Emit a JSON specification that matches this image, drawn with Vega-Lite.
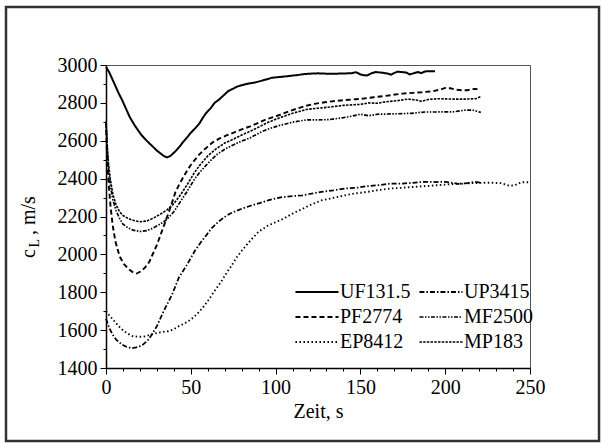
{
  "$schema": "https://vega.github.io/schema/vega-lite/v6.json",
  "width": 424,
  "height": 303,
  "autosize": {"type": "none"},
  "padding": {"left": 106, "top": 65, "right": 71, "bottom": 75},
  "background": "white",
  "config": {
    "view": {"stroke": "#555", "strokeWidth": 1},
    "font": "Liberation Serif",
    "axis": {
      "labelFont": "Liberation Serif", "titleFont": "Liberation Serif",
      "labelFontSize": 20, "titleFontSize": 20, "titleFontWeight": "normal",
      "labelColor": "black", "titleColor": "black",
      "labelFlush": false, "labelPadding": 3,
      "domainColor": "black", "domainWidth": 1.5, "tickColor": "black", "tickWidth": 1, "grid": false
    },
    "legend": {"labelFont": "Liberation Serif"},
    "text": {"font": "Liberation Serif"}
  },
  "resolve": {"axis": {"x": "independent", "y": "independent"}},
  "datasets": {
    "curves": [
      {"series":"UF131.5","t":0,"v":2990},{"series":"UF131.5","t":2,"v":2960},{"series":"UF131.5","t":5,"v":2900},{"series":"UF131.5","t":7.5,"v":2850},{"series":"UF131.5","t":9.5,"v":2815},{"series":"UF131.5","t":12,"v":2765},{"series":"UF131.5","t":14,"v":2725},{"series":"UF131.5","t":17,"v":2680},{"series":"UF131.5","t":20.8,"v":2631},{"series":"UF131.5","t":24,"v":2600},{"series":"UF131.5","t":27.6,"v":2569},{"series":"UF131.5","t":30,"v":2548},{"series":"UF131.5","t":32,"v":2534},{"series":"UF131.5","t":34,"v":2520},{"series":"UF131.5","t":36,"v":2512},{"series":"UF131.5","t":38,"v":2520},{"series":"UF131.5","t":41,"v":2545},{"series":"UF131.5","t":43.5,"v":2570},{"series":"UF131.5","t":45.7,"v":2596},{"series":"UF131.5","t":48,"v":2620},{"series":"UF131.5","t":50,"v":2642},{"series":"UF131.5","t":52.5,"v":2665},{"series":"UF131.5","t":55,"v":2690},{"series":"UF131.5","t":57,"v":2720},{"series":"UF131.5","t":59,"v":2746},{"series":"UF131.5","t":62,"v":2775},{"series":"UF131.5","t":64,"v":2800},{"series":"UF131.5","t":67,"v":2820},{"series":"UF131.5","t":70,"v":2845},{"series":"UF131.5","t":72,"v":2862},{"series":"UF131.5","t":75,"v":2875},{"series":"UF131.5","t":77,"v":2885},{"series":"UF131.5","t":80,"v":2893},{"series":"UF131.5","t":84,"v":2902},{"series":"UF131.5","t":88,"v":2908},{"series":"UF131.5","t":91,"v":2915},{"series":"UF131.5","t":95,"v":2925},{"series":"UF131.5","t":98,"v":2933},{"series":"UF131.5","t":103,"v":2937},{"series":"UF131.5","t":107,"v":2941},{"series":"UF131.5","t":112,"v":2946},{"series":"UF131.5","t":118,"v":2953},{"series":"UF131.5","t":122,"v":2955},{"series":"UF131.5","t":125,"v":2956},{"series":"UF131.5","t":130,"v":2954},{"series":"UF131.5","t":134,"v":2954},{"series":"UF131.5","t":140,"v":2955},{"series":"UF131.5","t":145,"v":2957},{"series":"UF131.5","t":147.5,"v":2962},{"series":"UF131.5","t":150,"v":2950},{"series":"UF131.5","t":152,"v":2946},{"series":"UF131.5","t":154,"v":2945},{"series":"UF131.5","t":157,"v":2958},{"series":"UF131.5","t":159,"v":2963},{"series":"UF131.5","t":163,"v":2959},{"series":"UF131.5","t":166,"v":2955},{"series":"UF131.5","t":168,"v":2949},{"series":"UF131.5","t":170,"v":2958},{"series":"UF131.5","t":172,"v":2965},{"series":"UF131.5","t":175,"v":2962},{"series":"UF131.5","t":177,"v":2960},{"series":"UF131.5","t":179,"v":2950},{"series":"UF131.5","t":182,"v":2958},{"series":"UF131.5","t":184,"v":2963},{"series":"UF131.5","t":186,"v":2957},{"series":"UF131.5","t":188,"v":2966},{"series":"UF131.5","t":191,"v":2967},{"series":"UF131.5","t":194,"v":2967},

      {"series":"PF2774","t":0,"v":2700},{"series":"PF2774","t":0.7,"v":2500},{"series":"PF2774","t":1.5,"v":2380},{"series":"PF2774","t":2.7,"v":2250},{"series":"PF2774","t":4,"v":2150},{"series":"PF2774","t":5.5,"v":2070},{"series":"PF2774","t":8,"v":1990},{"series":"PF2774","t":10.5,"v":1950},{"series":"PF2774","t":13,"v":1925},{"series":"PF2774","t":15.5,"v":1908},{"series":"PF2774","t":18,"v":1899},{"series":"PF2774","t":20.5,"v":1910},{"series":"PF2774","t":23,"v":1930},{"series":"PF2774","t":25.5,"v":1960},{"series":"PF2774","t":27.6,"v":2002},{"series":"PF2774","t":30,"v":2050},{"series":"PF2774","t":32,"v":2099},{"series":"PF2774","t":34.5,"v":2160},{"series":"PF2774","t":36.7,"v":2215},{"series":"PF2774","t":39,"v":2275},{"series":"PF2774","t":41,"v":2330},{"series":"PF2774","t":43.5,"v":2375},{"series":"PF2774","t":45.7,"v":2410},{"series":"PF2774","t":48,"v":2445},{"series":"PF2774","t":50,"v":2472},{"series":"PF2774","t":52.5,"v":2500},{"series":"PF2774","t":54.8,"v":2525},{"series":"PF2774","t":57.5,"v":2550},{"series":"PF2774","t":60,"v":2569},{"series":"PF2774","t":63,"v":2592},{"series":"PF2774","t":67,"v":2612},{"series":"PF2774","t":71,"v":2628},{"series":"PF2774","t":75,"v":2642},{"series":"PF2774","t":80,"v":2660},{"series":"PF2774","t":85,"v":2676},{"series":"PF2774","t":90,"v":2695},{"series":"PF2774","t":95,"v":2715},{"series":"PF2774","t":101,"v":2732},{"series":"PF2774","t":107,"v":2752},{"series":"PF2774","t":112,"v":2768},{"series":"PF2774","t":118,"v":2785},{"series":"PF2774","t":123,"v":2795},{"series":"PF2774","t":129,"v":2803},{"series":"PF2774","t":135,"v":2810},{"series":"PF2774","t":141,"v":2815},{"series":"PF2774","t":147,"v":2819},{"series":"PF2774","t":152,"v":2823},{"series":"PF2774","t":158,"v":2830},{"series":"PF2774","t":163,"v":2835},{"series":"PF2774","t":169,"v":2842},{"series":"PF2774","t":175,"v":2849},{"series":"PF2774","t":181,"v":2853},{"series":"PF2774","t":186,"v":2856},{"series":"PF2774","t":193,"v":2862},{"series":"PF2774","t":197,"v":2870},{"series":"PF2774","t":200,"v":2879},{"series":"PF2774","t":203,"v":2877},{"series":"PF2774","t":206,"v":2870},{"series":"PF2774","t":210,"v":2866},{"series":"PF2774","t":213,"v":2867},{"series":"PF2774","t":217.6,"v":2874},{"series":"PF2774","t":220,"v":2872},

      {"series":"MP183","t":0,"v":2700},{"series":"MP183","t":0.7,"v":2580},{"series":"MP183","t":1.5,"v":2480},{"series":"MP183","t":2.5,"v":2400},{"series":"MP183","t":4,"v":2320},{"series":"MP183","t":6,"v":2260},{"series":"MP183","t":8,"v":2225},{"series":"MP183","t":10,"v":2205},{"series":"MP183","t":13,"v":2190},{"series":"MP183","t":16,"v":2180},{"series":"MP183","t":20,"v":2172},{"series":"MP183","t":24,"v":2176},{"series":"MP183","t":28,"v":2192},{"series":"MP183","t":32,"v":2212},{"series":"MP183","t":36,"v":2235},{"series":"MP183","t":40,"v":2268},{"series":"MP183","t":44,"v":2315},{"series":"MP183","t":48,"v":2370},{"series":"MP183","t":52,"v":2430},{"series":"MP183","t":55.4,"v":2472},{"series":"MP183","t":60,"v":2520},{"series":"MP183","t":65,"v":2558},{"series":"MP183","t":70,"v":2588},{"series":"MP183","t":75,"v":2608},{"series":"MP183","t":80,"v":2630},{"series":"MP183","t":85,"v":2650},{"series":"MP183","t":90,"v":2672},{"series":"MP183","t":95,"v":2695},{"series":"MP183","t":102,"v":2720},{"series":"MP183","t":110,"v":2745},{"series":"MP183","t":118,"v":2765},{"series":"MP183","t":125,"v":2772},{"series":"MP183","t":132,"v":2778},{"series":"MP183","t":140,"v":2787},{"series":"MP183","t":150,"v":2792},{"series":"MP183","t":155,"v":2800},{"series":"MP183","t":160,"v":2798},{"series":"MP183","t":165,"v":2806},{"series":"MP183","t":172,"v":2812},{"series":"MP183","t":178,"v":2820},{"series":"MP183","t":183,"v":2815},{"series":"MP183","t":186,"v":2808},{"series":"MP183","t":190,"v":2818},{"series":"MP183","t":196,"v":2822},{"series":"MP183","t":205,"v":2820},{"series":"MP183","t":212,"v":2820},{"series":"MP183","t":218,"v":2822},{"series":"MP183","t":221,"v":2833},

      {"series":"MF2500","t":0,"v":2700},{"series":"MF2500","t":0.7,"v":2560},{"series":"MF2500","t":1.5,"v":2450},{"series":"MF2500","t":2.5,"v":2370},{"series":"MF2500","t":4,"v":2290},{"series":"MF2500","t":6,"v":2230},{"series":"MF2500","t":8,"v":2190},{"series":"MF2500","t":10,"v":2160},{"series":"MF2500","t":13,"v":2140},{"series":"MF2500","t":16,"v":2128},{"series":"MF2500","t":20,"v":2121},{"series":"MF2500","t":24,"v":2125},{"series":"MF2500","t":28,"v":2140},{"series":"MF2500","t":32,"v":2160},{"series":"MF2500","t":36,"v":2185},{"series":"MF2500","t":40,"v":2225},{"series":"MF2500","t":44,"v":2280},{"series":"MF2500","t":48,"v":2335},{"series":"MF2500","t":52,"v":2395},{"series":"MF2500","t":55.4,"v":2435},{"series":"MF2500","t":60,"v":2480},{"series":"MF2500","t":65,"v":2525},{"series":"MF2500","t":70,"v":2555},{"series":"MF2500","t":75,"v":2578},{"series":"MF2500","t":80,"v":2598},{"series":"MF2500","t":85,"v":2615},{"series":"MF2500","t":90,"v":2640},{"series":"MF2500","t":95,"v":2660},{"series":"MF2500","t":102,"v":2680},{"series":"MF2500","t":110,"v":2698},{"series":"MF2500","t":118,"v":2710},{"series":"MF2500","t":125,"v":2710},{"series":"MF2500","t":132,"v":2712},{"series":"MF2500","t":140,"v":2722},{"series":"MF2500","t":145,"v":2730},{"series":"MF2500","t":150,"v":2740},{"series":"MF2500","t":155,"v":2732},{"series":"MF2500","t":160,"v":2740},{"series":"MF2500","t":170,"v":2742},{"series":"MF2500","t":180,"v":2745},{"series":"MF2500","t":188,"v":2752},{"series":"MF2500","t":195,"v":2752},{"series":"MF2500","t":205,"v":2753},{"series":"MF2500","t":212,"v":2762},{"series":"MF2500","t":216,"v":2762},{"series":"MF2500","t":219,"v":2755},{"series":"MF2500","t":221,"v":2750},

      {"series":"UP3415","t":0,"v":1660},{"series":"UP3415","t":2,"v":1610},{"series":"UP3415","t":4,"v":1575},{"series":"UP3415","t":6,"v":1550},{"series":"UP3415","t":9.5,"v":1523},{"series":"UP3415","t":12,"v":1512},{"series":"UP3415","t":15,"v":1505},{"series":"UP3415","t":17,"v":1507},{"series":"UP3415","t":19.7,"v":1514},{"series":"UP3415","t":22,"v":1525},{"series":"UP3415","t":25,"v":1550},{"series":"UP3415","t":27.5,"v":1583},{"series":"UP3415","t":30,"v":1621},{"series":"UP3415","t":34,"v":1700},{"series":"UP3415","t":39,"v":1789},{"series":"UP3415","t":43,"v":1878},{"series":"UP3415","t":48,"v":1949},{"series":"UP3415","t":52.5,"v":2020},{"series":"UP3415","t":56,"v":2065},{"series":"UP3415","t":59,"v":2099},{"series":"UP3415","t":62,"v":2135},{"series":"UP3415","t":66,"v":2170},{"series":"UP3415","t":70,"v":2198},{"series":"UP3415","t":73,"v":2215},{"series":"UP3415","t":80,"v":2241},{"series":"UP3415","t":86,"v":2259},{"series":"UP3415","t":91,"v":2272},{"series":"UP3415","t":95.5,"v":2285},{"series":"UP3415","t":100,"v":2295},{"series":"UP3415","t":104.5,"v":2303},{"series":"UP3415","t":110,"v":2308},{"series":"UP3415","t":116,"v":2312},{"series":"UP3415","t":122,"v":2322},{"series":"UP3415","t":127,"v":2330},{"series":"UP3415","t":134,"v":2338},{"series":"UP3415","t":141,"v":2348},{"series":"UP3415","t":148,"v":2352},{"series":"UP3415","t":154,"v":2360},{"series":"UP3415","t":161,"v":2366},{"series":"UP3415","t":168,"v":2374},{"series":"UP3415","t":175,"v":2374},{"series":"UP3415","t":181,"v":2378},{"series":"UP3415","t":186,"v":2382},{"series":"UP3415","t":190.5,"v":2383},{"series":"UP3415","t":195,"v":2382},{"series":"UP3415","t":200,"v":2383},{"series":"UP3415","t":204,"v":2378},{"series":"UP3415","t":208.6,"v":2371},{"series":"UP3415","t":213,"v":2376},{"series":"UP3415","t":217.6,"v":2383},{"series":"UP3415","t":221,"v":2378},

      {"series":"EP8412","t":0,"v":1700},{"series":"EP8412","t":2.5,"v":1672},{"series":"EP8412","t":5,"v":1647},{"series":"EP8412","t":7,"v":1625},{"series":"EP8412","t":9.5,"v":1603},{"series":"EP8412","t":12.5,"v":1583},{"series":"EP8412","t":16,"v":1567},{"series":"EP8412","t":20,"v":1565},{"series":"EP8412","t":23,"v":1567},{"series":"EP8412","t":26,"v":1575},{"series":"EP8412","t":30,"v":1585},{"series":"EP8412","t":33,"v":1590},{"series":"EP8412","t":36.7,"v":1594},{"series":"EP8412","t":40,"v":1605},{"series":"EP8412","t":43,"v":1621},{"series":"EP8412","t":46.5,"v":1636},{"series":"EP8412","t":50,"v":1656},{"series":"EP8412","t":53.5,"v":1683},{"series":"EP8412","t":57,"v":1718},{"series":"EP8412","t":60.5,"v":1760},{"series":"EP8412","t":64,"v":1807},{"series":"EP8412","t":67.5,"v":1850},{"series":"EP8412","t":70.6,"v":1895},{"series":"EP8412","t":74,"v":1940},{"series":"EP8412","t":77,"v":1984},{"series":"EP8412","t":81,"v":2030},{"series":"EP8412","t":86,"v":2082},{"series":"EP8412","t":90,"v":2120},{"series":"EP8412","t":95.5,"v":2152},{"series":"EP8412","t":100,"v":2170},{"series":"EP8412","t":104.5,"v":2188},{"series":"EP8412","t":110,"v":2215},{"series":"EP8412","t":116,"v":2241},{"series":"EP8412","t":121,"v":2263},{"series":"EP8412","t":127,"v":2285},{"series":"EP8412","t":134,"v":2298},{"series":"EP8412","t":141,"v":2312},{"series":"EP8412","t":147,"v":2322},{"series":"EP8412","t":154,"v":2330},{"series":"EP8412","t":161,"v":2340},{"series":"EP8412","t":168,"v":2348},{"series":"EP8412","t":175,"v":2352},{"series":"EP8412","t":181,"v":2356},{"series":"EP8412","t":188,"v":2360},{"series":"EP8412","t":195,"v":2365},{"series":"EP8412","t":202,"v":2370},{"series":"EP8412","t":208.6,"v":2374},{"series":"EP8412","t":215,"v":2376},{"series":"EP8412","t":222,"v":2378},{"series":"EP8412","t":228,"v":2378},{"series":"EP8412","t":233,"v":2376},{"series":"EP8412","t":238,"v":2362},{"series":"EP8412","t":241,"v":2365},{"series":"EP8412","t":245,"v":2381},{"series":"EP8412","t":250,"v":2381}
    ]
  },
  "layer": [
    {
      "data": {"name": "curves"},
      "mark": {"type": "line", "color": "black", "strokeCap": "butt"},
      "encoding": {
        "x": {
          "field": "t", "type": "quantitative",
          "scale": {"domain": [0, 250], "nice": false},
          "axis": {
            "orient": "bottom",
            "values": [0, 50, 100, 150, 200, 250],
            "format": "d", "tickSize": 6,
            "title": "Zeit, s", "titlePadding": 4
          }
        },
        "y": {
          "field": "v", "type": "quantitative",
          "scale": {"domain": [1400, 3000], "nice": false},
          "axis": {
            "orient": "left",
            "values": [1400, 1600, 1800, 2000, 2200, 2400, 2600, 2800, 3000],
            "format": "d", "tickSize": 6,
            "title": null
          }
        },
        "strokeDash": {
          "field": "series", "type": "nominal",
          "scale": {
            "domain": ["UF131.5", "PF2774", "EP8412", "UP3415", "MF2500", "MP183"],
            "range": [[1, 0], [5, 3], [1.5, 2.5], [5, 2, 1.5, 2], [4, 1.5, 1.5, 1.5, 1.5, 1.5], [2.5, 1.2]]
          },
          "legend": {
            "title": null, "orient": "none", "legendX": 201, "legendY": 217, "columns": 2,
            "symbolType": "M-4,0H4", "symbolSize": 116, "symbolStrokeWidth": 1.5, "symbolStrokeColor": "black", "symbolFillColor": "transparent",
            "labelFont": "Liberation Serif", "labelFontSize": 20, "labelColor": "black", "labelOffset": 13,
            "columnPadding": 4, "rowPadding": 5, "padding": 0, "labelLimit": 200
          }
        },
        "strokeWidth": {
          "field": "series", "type": "nominal",
          "scale": {
            "domain": ["UF131.5", "PF2774", "EP8412", "UP3415", "MF2500", "MP183"],
            "range": [2, 1.6, 1.4, 1.4, 1.4, 1.4]
          },
          "legend": null
        }
      }
    },
    {
      "data": {"values": [{}]},
      "mark": {"type": "rect", "fill": null, "stroke": "#333", "strokeWidth": 2.5},
      "encoding": {
        "x": {"datum": -58.96, "type": "quantitative",
          "axis": {"orient": "bottom", "values": [10,20,30,40,60,70,80,90,110,120,130,140,160,170,180,190,210,220,230,240], "labels": false, "domain": false, "tickSize": 3, "title": null}},
        "x2": {"datum": 290.7},
        "y": {"datum": 1014.5, "type": "quantitative",
          "axis": {"orient": "left", "values": [1500,1700,1900,2100,2300,2500,2700,2900], "labels": false, "domain": false, "tickSize": 3, "title": null}},
        "y2": {"datum": 3306}
      }
    },
    {
      "data": {"values": [{}]},
      "mark": {"type": "text", "text": "c", "angle": 270, "align": "left", "baseline": "alphabetic", "font": "Liberation Serif", "fontSize": 20, "color": "black"},
      "encoding": {
        "x": {"datum": -41.86, "type": "quantitative", "axis": null},
        "y": {"datum": 1981, "type": "quantitative", "axis": null}
      }
    },
    {
      "data": {"values": [{}]},
      "mark": {"type": "text", "text": "L", "angle": 270, "align": "left", "baseline": "alphabetic", "font": "Liberation Serif", "fontSize": 14, "color": "black"},
      "encoding": {
        "x": {"datum": -39.5, "type": "quantitative", "axis": null},
        "y": {"datum": 2036, "type": "quantitative", "axis": null}
      }
    },
    {
      "data": {"values": [{}]},
      "mark": {"type": "text", "text": ", m/s", "angle": 270, "align": "left", "baseline": "alphabetic", "font": "Liberation Serif", "fontSize": 20, "color": "black"},
      "encoding": {
        "x": {"datum": -41.86, "type": "quantitative", "axis": null},
        "y": {"datum": 2102, "type": "quantitative", "axis": null}
      }
    }
  ]
}
